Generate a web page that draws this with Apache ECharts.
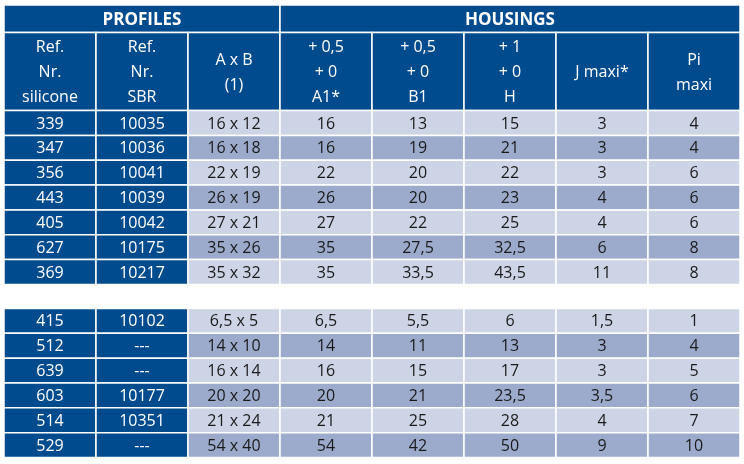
<!DOCTYPE html>
<html>
<head>
<meta charset="utf-8">
<script src="https://cdn.jsdelivr.net/npm/echarts@6/dist/echarts.min.js"></script>
<style>
html,body{margin:0;padding:0;background:#fff;}
#chart{width:744px;height:464px;}
</style>
</head>
<body>
<div id="chart"></div>
<script>
// ---- Data ----
const groupHeaders = ['PROFILES', 'HOUSINGS'];
const groupSpans = [[0, 3], [3, 8]];
const columnHeaders = ['Ref.\nNr.\nsilicone', 'Ref.\nNr.\nSBR', 'A x B\n(1)', '+ 0,5\n+ 0\nA1*', '+ 0,5\n+ 0\nB1', '+ 1\n+ 0\nH', 'J maxi*', 'Pi\nmaxi'];

// Block 1
const refSilicone1 = ['339', '347', '356', '443', '405', '627', '369'];
const refSBR1 = ['10035', '10036', '10041', '10039', '10042', '10175', '10217'];
const axb1 = ['16 x 12', '16 x 18', '22 x 19', '26 x 19', '27 x 21', '35 x 26', '35 x 32'];
const a1_1 = [16, 16, 22, 26, 27, 35, 35];
const b1_1 = [13, 19, 20, 20, 22, 27.5, 33.5];
const h_1 = [15, 21, 22, 23, 25, 32.5, 43.5];
const jMaxi1 = [3, 3, 3, 4, 4, 6, 11];
const piMaxi1 = [4, 4, 6, 6, 6, 8, 8];

// Block 2
const refSilicone2 = ['415', '512', '639', '603', '514', '529'];
const refSBR2 = ['10102', '---', '---', '10177', '10351', '---'];
const axb2 = ['6,5 x 5', '14 x 10', '16 x 14', '20 x 20', '21 x 24', '54 x 40'];
const a1_2 = [6.5, 14, 16, 20, 21, 54];
const b1_2 = [5.5, 11, 15, 21, 25, 42];
const h_2 = [6, 13, 17, 23.5, 28, 50];
const jMaxi2 = [1.5, 3, 3, 3.5, 4, 9];
const piMaxi2 = [1, 4, 5, 6, 7, 10];

// ---- Layout (row units) ----
const HEADER1_H = 1.11;
const HEADER2_H = 3.14;
const ROW_H = 1;
const GAP_H = 0.97;
const NCOLS = 8;

const COLORS = {
  blue: '#004b8d',
  light: '#cdd4e6',
  mid: '#9cabcc',
  white: '#ffffff',
  dark: '#1a1a1a'
};

function fmt(v) {
  return typeof v === 'number' ? String(v).replace('.', ',') : v;
}

const cells = []; // [x0, x1, y0, y1]
const meta = [];  // {text, fill, color, bold}

let y = 0;
groupHeaders.forEach((g, i) => {
  cells.push([groupSpans[i][0], groupSpans[i][1], y, y + HEADER1_H]);
  meta.push({ text: g, fill: COLORS.blue, color: COLORS.white, bold: true });
});
y += HEADER1_H;
columnHeaders.forEach((h, c) => {
  cells.push([c, c + 1, y, y + HEADER2_H]);
  meta.push({ text: h, fill: COLORS.blue, color: COLORS.white, bold: false });
});
y += HEADER2_H;

function addBlock(cols) {
  const n = cols[0].length;
  for (let r = 0; r < n; r++) {
    const rowFill = r % 2 === 0 ? COLORS.light : COLORS.mid;
    cols.forEach((col, c) => {
      cells.push([c, c + 1, y, y + ROW_H]);
      const isRef = c < 2;
      meta.push({
        text: fmt(col[r]),
        fill: isRef ? COLORS.blue : rowFill,
        color: isRef ? COLORS.white : COLORS.dark,
        bold: false
      });
    });
    y += ROW_H;
  }
}

addBlock([refSilicone1, refSBR1, axb1, a1_1, b1_1, h_1, jMaxi1, piMaxi1]);
y += GAP_H;
addBlock([refSilicone2, refSBR2, axb2, a1_2, b1_2, h_2, jMaxi2, piMaxi2]);
const TOTAL = y;

const chart = echarts.init(document.getElementById('chart'), null, { renderer: 'canvas' });
chart.setOption({
  animation: false,
  backgroundColor: '#ffffff',
  grid: { left: 4, right: 4, top: 5, bottom: 6.5 },
  xAxis: { type: 'value', min: 0, max: NCOLS, show: false },
  yAxis: { type: 'value', min: 0, max: TOTAL, inverse: true, show: false },
  series: [{
    type: 'custom',
    coordinateSystem: 'cartesian2d',
    data: cells,
    encode: { x: [0, 1], y: [2, 3] },
    renderItem: function (params, api) {
      const m = meta[params.dataIndex];
      const p0 = api.coord([api.value(0), api.value(2)]);
      const p1 = api.coord([api.value(1), api.value(3)]);
      const w = p1[0] - p0[0];
      const h = p1[1] - p0[1];
      return {
        type: 'group',
        children: [
          {
            type: 'rect',
            shape: { x: p0[0], y: p0[1], width: w, height: h },
            style: { fill: m.fill, stroke: '#ffffff', lineWidth: 1.5 }
          },
          {
            type: 'text',
            style: {
              text: m.text,
              x: p0[0] + w / 2,
              y: p0[1] + h / 2 + 1,
              align: 'center',
              verticalAlign: 'middle',
              fill: m.color,
              fontFamily: 'Open Sans',
              fontSize: m.bold ? 17 : 16,
              fontWeight: m.bold ? 'bold' : 'normal',
              lineHeight: 25
            }
          }
        ]
      };
    }
  }]
});
</script>
</body>
</html>
